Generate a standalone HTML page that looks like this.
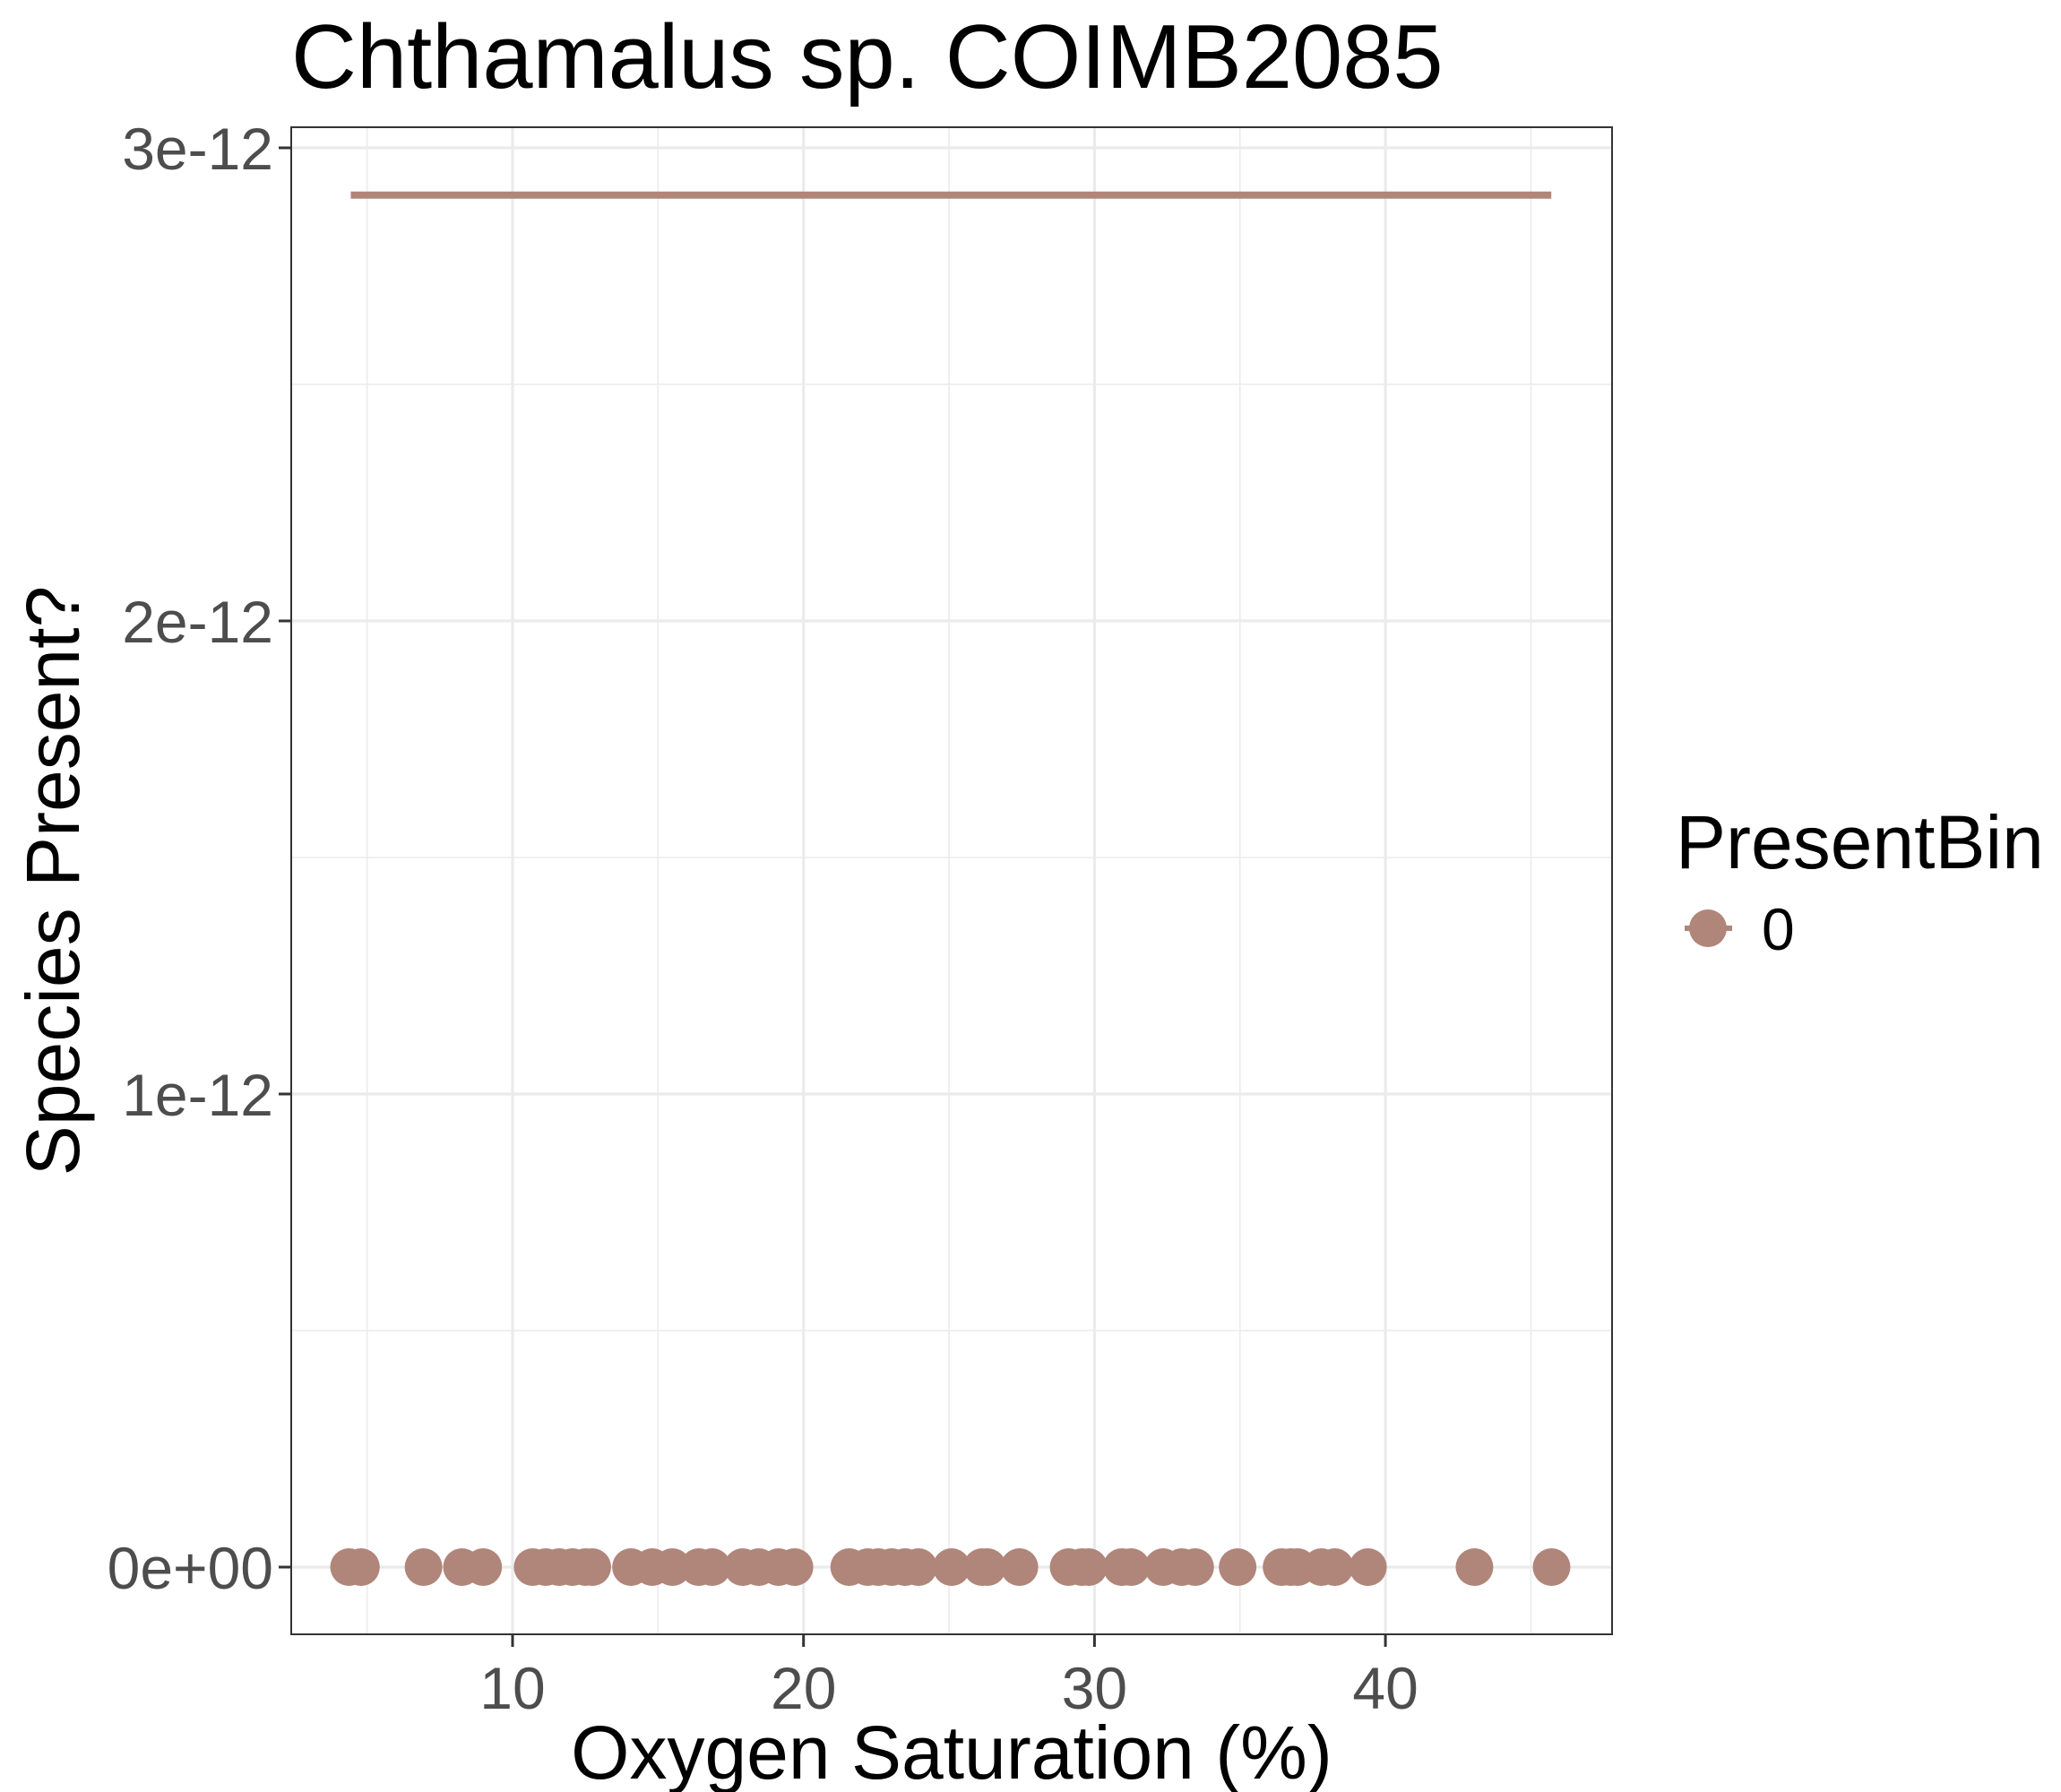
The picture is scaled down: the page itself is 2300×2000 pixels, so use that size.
<!DOCTYPE html>
<html><head><meta charset="utf-8"><style>
html,body{margin:0;padding:0;background:#fff;}
svg{display:block;font-family:"Liberation Sans",Arial,sans-serif;}
</style></head><body>
<svg id="chart" width="2300" height="2000" xmlns="http://www.w3.org/2000/svg">
<rect width="2300" height="2000" fill="#fff"/>
<text x="325" y="98" font-size="101" fill="#000">Chthamalus sp. COIMB2085</text>
<g id="grid"></g>
<g id="marks"></g>
<rect x="325" y="142" width="1474" height="1682" fill="none" stroke="#333" stroke-width="2"/>
<g id="axes"></g>
<text x="1062" y="1985" font-size="84" text-anchor="middle" fill="#000">Oxygen Saturation (%)</text>
<text transform="translate(88,983) rotate(-90)" font-size="84" text-anchor="middle" fill="#000">Species Present?</text>
<text x="1870" y="969" font-size="84" fill="#000">PresentBin</text>
<g>
<line x1="1880" y1="1036" x2="1933" y2="1036" stroke="#B0857A" stroke-width="6"/>
<circle cx="1906" cy="1036" r="21" fill="#B0857A"/>
<text x="1966" y="1060" font-size="66" fill="#000">0</text>
</g>
</svg>
<script>
const xValues=[4.38,4.79,6.94,8.26,8.99,10.69,11.14,11.6,12.06,12.51,12.74,14.07,14.8,15.49,16.4,16.86,17.91,18.46,19.14,19.69,21.57,22.21,22.57,23.03,23.49,23.95,25.09,26.14,26.32,27.42,29.11,29.57,29.8,30.94,31.26,32.36,33.0,33.46,34.92,36.43,36.75,36.98,37.8,38.26,39.4,43.06,45.71];
const yValues=xValues.map(()=>0);
const fitX=[4.44,45.7];
const fitY=[2.9e-12,2.9e-12];
const xTicks=[10,20,30,40];
const xMinor=[5,15,25,35,45];
const yTicks=[0,1e-12,2e-12,3e-12];
const yTickLabels=["0e+00","1e-12","2e-12","3e-12"];
const yMinor=[0.5e-12,1.5e-12,2.5e-12];
const NS="http://www.w3.org/2000/svg";
const sx=v=>572+(v-10)*32.47;
const sy=v=>1749-(v/3e-12)*1584;
function mk(tag,attrs,parent){const e=document.createElementNS(NS,tag);for(const k in attrs)e.setAttribute(k,attrs[k]);parent.appendChild(e);return e;}
const grid=document.getElementById('grid'),marks=document.getElementById('marks'),axes=document.getElementById('axes');
xMinor.forEach(v=>{const l=mk('line',{x1:sx(v),x2:sx(v),y1:142,y2:1824,stroke:'#EBEBEB','stroke-width':1.6},grid);

});
yMinor.forEach(v=>{const l=mk('line',{x1:325,x2:1799,y1:sy(v),y2:sy(v),stroke:'#EBEBEB','stroke-width':1.6},grid);

});
xTicks.forEach(v=>{const l=mk('line',{x1:sx(v),x2:sx(v),y1:142,y2:1824,stroke:'#EBEBEB','stroke-width':3.2},grid);


const t=mk('line',{x1:sx(v),x2:sx(v),y1:1824,y2:1838,stroke:'#333','stroke-width':3},axes);


const tx=mk('text',{x:sx(v),y:1907,'font-size':66,'text-anchor':'middle',fill:'#4D4D4D'},axes);
tx.textContent=v;

});
yTicks.forEach((v,i)=>{const l=mk('line',{x1:325,x2:1799,y1:sy(v),y2:sy(v),stroke:'#EBEBEB','stroke-width':3.2},grid);


const t=mk('line',{x1:311,x2:325,y1:sy(v),y2:sy(v),stroke:'#333','stroke-width':3},axes);


const tx=mk('text',{x:305,y:sy(v)+24,'font-size':66,'text-anchor':'end',fill:'#4D4D4D'},axes);
tx.textContent=yTickLabels[i];

});
const fit=mk('line',{x1:sx(fitX[0]),x2:sx(fitX[1]),y1:sy(fitY[0]),y2:sy(fitY[1]),stroke:'#B0857A','stroke-width':8},marks);


xValues.forEach((v,i)=>{const c=mk('circle',{cx:sx(v),cy:sy(yValues[i]),r:21,fill:'#B0857A'},marks);

});
</script>
</body></html>
